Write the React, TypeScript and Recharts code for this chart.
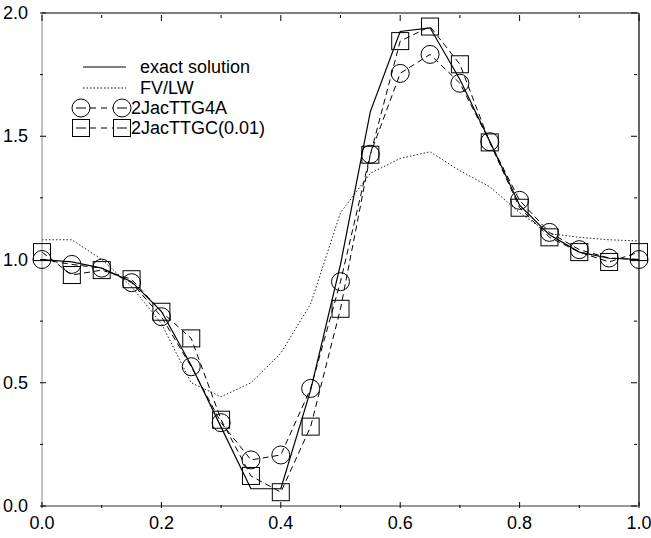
import { LineChart, Line, XAxis, YAxis, ReferenceLine } from 'recharts';

// grid points along x
const X_VALUES = [0, 0.05, 0.1, 0.15, 0.2, 0.25, 0.3, 0.35, 0.4, 0.45, 0.5, 0.55, 0.6, 0.65, 0.7, 0.75, 0.8, 0.85, 0.9, 0.95, 1.0];

// series values
const EXACT = [1.0, 0.99, 0.965, 0.91, 0.79, 0.57, 0.32, 0.07, 0.07, 0.47, 0.98, 1.6, 1.925, 1.94, 1.73, 1.48, 1.22, 1.1, 1.03, 1.005, 1.0];
const FV_LW = [1.08, 1.08, 1.0, 0.89, 0.74, 0.5, 0.443, 0.5, 0.62, 0.82, 1.19, 1.35, 1.41, 1.437, 1.36, 1.295, 1.19, 1.105, 1.09, 1.08, 1.075];
const TTG4A = [1.0, 0.98, 0.965, 0.906, 0.768, 0.565, 0.338, 0.187, 0.207, 0.477, 0.91, 1.427, 1.755, 1.832, 1.715, 1.478, 1.24, 1.11, 1.04, 1.006, 1.0];
const TTGC = [1.03, 0.937, 0.957, 0.92, 0.788, 0.68, 0.35, 0.122, 0.056, 0.322, 0.8, 1.425, 1.886, 1.945, 1.792, 1.475, 1.21, 1.09, 1.03, 0.99, 1.03];

const X_TICKS = [0, 0.1, 0.2, 0.3, 0.4, 0.5, 0.6, 0.7, 0.8, 0.9, 1.0];
const Y_TICKS = [0, 0.25, 0.5, 0.75, 1.0, 1.25, 1.5, 1.75, 2.0];

const FONT = '"Liberation Sans", Arial, Helvetica, sans-serif';

// chart box; the plot area is what is left after margins and axes
const W = 651;
const H = 538;
const MARGIN = { top: 13, right: 12, bottom: 0, left: 0 };
const X_AXIS_H = 32;
const Y_AXIS_W = 42;
const PLOT_W = W - MARGIN.left - MARGIN.right - Y_AXIS_W;
const PLOT_H = H - MARGIN.top - MARGIN.bottom - X_AXIS_H;

const data = X_VALUES.map((x, i) => ({
  x,
  exact: EXACT[i],
  fvlw: FV_LW[i],
  g4a: TTG4A[i],
  gc: TTGC[i],
}));

const isMajorX = (v: number) => Math.round(v * 10) % 2 === 0;
const isMajorY = (v: number) => Math.abs(v * 2 - Math.round(v * 2)) < 1e-6;

// ticks point inward on all four sides, labels only on major ticks
function BottomTick(props: any) {
  const { x, y, payload } = props;
  const major = isMajorX(payload.value);
  const len = major ? 6 : 3;
  const top = y - PLOT_H;
  return (
    <g>
      <line x1={x} y1={y} x2={x} y2={y - len} stroke="#000" strokeWidth={1} />
      <line x1={x} y1={top} x2={x} y2={top + len} stroke="#000" strokeWidth={1} />
      {major && (
        <text x={x} y={y + 21} textAnchor="middle" fontFamily={FONT} fontSize={18} fill="#000">
          {payload.value.toFixed(1)}
        </text>
      )}
    </g>
  );
}

function LeftTick(props: any) {
  const { x, y, payload } = props;
  const major = isMajorY(payload.value);
  const len = major ? 6 : 3;
  const right = x + PLOT_W;
  return (
    <g>
      <line x1={x} y1={y} x2={x + len} y2={y} stroke="#000" strokeWidth={1} />
      <line x1={right} y1={y} x2={right - len} y2={y} stroke="#000" strokeWidth={1} />
      {major && (
        <text x={x - 12} y={y + 6} textAnchor="end" fontFamily={FONT} fontSize={18} fill="#000">
          {payload.value.toFixed(1)}
        </text>
      )}
    </g>
  );
}

const circleDot = (p: any) => (
  <circle key={`c${p.index}`} cx={p.cx} cy={p.cy} r={9} fill="none" stroke="#000" strokeWidth={1} />
);
const squareDot = (p: any) => (
  <rect key={`s${p.index}`} x={p.cx - 8.5} y={p.cy - 8.5} width={17} height={17} fill="none" stroke="#000" strokeWidth={1} />
);

function LegendBox() {
  const textProps = { fontFamily: FONT, fontSize: 18, fill: '#000' };
  return (
    <svg width={300} height={150} style={{ position: 'absolute', left: 0, top: 0, pointerEvents: 'none' }}>
      <line x1={83} y1={67} x2={126} y2={67} stroke="#000" strokeWidth={1} />
      <text x={140} y={73} {...textProps}>exact solution</text>

      <line x1={83} y1={88} x2={126} y2={88} stroke="#000" strokeWidth={1} strokeDasharray="1.5 2" />
      <text x={140} y={94} {...textProps}>FV/LW</text>

      <line x1={90} y1={108} x2={113} y2={108} stroke="#000" strokeWidth={1} strokeDasharray="6 5" />
      <line x1={76} y1={108} x2={86} y2={108} stroke="#000" strokeWidth={1} />
      <line x1={117} y1={108} x2={127} y2={108} stroke="#000" strokeWidth={1} />
      <circle cx={81} cy={108} r={9} fill="none" stroke="#000" />
      <circle cx={122} cy={108} r={9} fill="none" stroke="#000" />
      <text x={131} y={114} {...textProps}>2JacTTG4A</text>

      <line x1={90} y1={128} x2={113} y2={128} stroke="#000" strokeWidth={1} strokeDasharray="6 5" />
      <line x1={76} y1={128} x2={86} y2={128} stroke="#000" strokeWidth={1} />
      <line x1={117} y1={128} x2={127} y2={128} stroke="#000" strokeWidth={1} />
      <rect x={72.5} y={119.5} width={17} height={17} fill="none" stroke="#000" />
      <rect x={113.5} y={119.5} width={17} height={17} fill="none" stroke="#000" />
      <text x={131} y={134} {...textProps}>2JacTTGC(0.01)</text>
    </svg>
  );
}

export default function App() {
  return (
    <div style={{ position: 'absolute', left: 0, top: 0, width: W, height: H, background: '#fff' }}>
      <LineChart width={W} height={H} data={data} margin={MARGIN}>
        <XAxis
          dataKey="x"
          type="number"
          domain={[0, 1]}
          ticks={X_TICKS}
          height={X_AXIS_H}
          tickSize={0}
          tickLine={false}
          axisLine={{ stroke: '#333' }}
          tick={BottomTick}
        />
        <YAxis
          type="number"
          domain={[0, 2]}
          ticks={Y_TICKS}
          width={Y_AXIS_W}
          tickSize={0}
          tickLine={false}
          axisLine={{ stroke: '#888' }}
          tick={LeftTick}
        />
        {/* closing frame on top and right */}
        <ReferenceLine y={2} stroke="#000" strokeWidth={1.2} />
        <ReferenceLine x={1} stroke="#000" strokeWidth={1.2} />
        <Line dataKey="fvlw" name="FV/LW" type="linear" stroke="#222" strokeWidth={1}
          strokeDasharray="1.5 2" dot={false} isAnimationActive={false} />
        <Line dataKey="exact" name="exact solution" type="linear" stroke="#000" strokeWidth={1.2}
          dot={false} isAnimationActive={false} />
        <Line dataKey="g4a" name="2JacTTG4A" type="linear" stroke="#000" strokeWidth={1}
          strokeDasharray="6 4" dot={circleDot} isAnimationActive={false} />
        <Line dataKey="gc" name="2JacTTGC(0.01)" type="linear" stroke="#000" strokeWidth={1}
          strokeDasharray="6 4" dot={squareDot} isAnimationActive={false} />
      </LineChart>
      <LegendBox />
    </div>
  );
}
